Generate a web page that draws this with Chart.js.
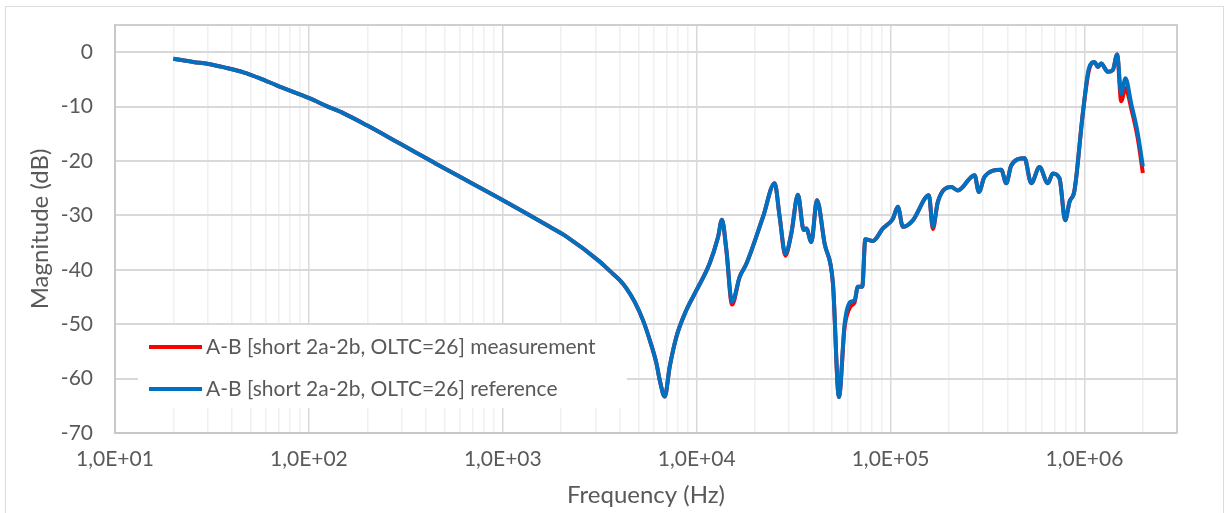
<!DOCTYPE html>
<html>
<head>
<meta charset="utf-8">
<script src="https://cdn.jsdelivr.net/npm/chart.js@4.4.1/dist/chart.umd.min.js"></script>
<style>
  body { margin: 0; background: #fff; }
  #wrap { position: relative; width: 1232px; height: 513px; }
  #frame { position: absolute; left: 5px; top: 6px; width: 1219px; height: 520px; border: 1.5px solid #dcdcdc; box-sizing: border-box; }
  canvas { position: absolute; left: 0; top: 0; }
</style>
</head>
<body>
<div id="wrap">
  <div id="frame"></div>
  <canvas id="bodeChart" width="1232" height="513"></canvas>
</div>
<script>
// frequency points (Hz)
const freqHz = [20, 25.3, 30.9, 37.6, 45.9, 55.9, 68.2, 83, 101.2, 123.4, 150.3, 198, 294.5, 437, 533, 965,
  1747, 2130, 3162, 3560, 4010, 4342, 4790, 5288, 5725, 6200,
  6448, 6842, 7259, 7861, 8850, 9965, 11670, 12880, 13500, 14230,
  15210, 16660, 18040, 21970, 25240, 26790, 28660, 30770, 33280, 35610,
  36770, 39020, 41700, 45680, 50420, 54140, 57940, 62000, 65220, 67830,
  71460, 74050, 81040, 91270, 102800, 109000, 115700, 130300, 157600, 165200,
  175300, 205500, 222300, 271000, 285300, 305200, 372100, 394900, 419200, 490700,
  531300, 586100, 647000, 686500, 743300, 795400, 837100, 888100, 980000, 1053000,
  1126000, 1171000, 1220000, 1319000, 1399000, 1474000, 1546000, 1627000, 1741000, 1882000,
  2000000];

// magnitude in dB
const measurement = [-1.2, -1.8, -2.2, -2.9, -3.7, -4.8, -6.1, -7.3, -8.5, -9.9, -11.2, -13.4, -16.8, -20.2, -21.9, -26.9,
  -32.1, -33.9, -38.5, -40.2, -41.9, -43.4, -45.9, -49.3, -52.9, -57.2,
  -60.3, -63.3, -57.8, -52.3, -47.4, -43.8, -38.8, -34.0, -30.8, -36.4,
  -46.4, -41.3, -38.9, -30.3, -24.1, -30.3, -37.4, -33.3, -26.2, -32.7,
  -32.4, -34.9, -27.2, -35.2, -42.5, -63.4, -50.5, -46.8, -46.0, -43.1,
  -43.1, -34.4, -34.7, -32.4, -30.6, -28.4, -32.1, -30.9, -26.3, -32.5,
  -27.5, -24.8, -25.4, -22.6, -25.7, -22.9, -21.6, -24.1, -20.8, -19.5,
  -24.1, -21.1, -24.1, -22.3, -23.2, -30.9, -27.5, -25.4, -11.3, -3.4,
  -1.8, -2.7, -2.1, -3.6, -3.3, -0.4, -9.0, -6.6, -10.3, -15.8,
  -22.2];

const reference = [-1.2, -1.8, -2.2, -2.9, -3.7, -4.8, -6.1, -7.3, -8.5, -9.9, -11.2, -13.4, -16.8, -20.2, -21.9, -26.9,
  -32.1, -33.9, -38.5, -40.2, -41.9, -43.4, -45.9, -49.3, -52.9, -57.2,
  -60.3, -63.3, -57.8, -52.3, -47.4, -43.8, -38.8, -34.0, -30.8, -36.4,
  -45.9, -41.3, -38.9, -30.3, -24.1, -30.3, -37.0, -33.3, -26.2, -32.7,
  -32.4, -34.9, -27.2, -35.2, -42.5, -63.4, -49.9, -45.9, -45.6, -43.1,
  -43.1, -34.4, -34.7, -32.4, -30.6, -28.4, -32.1, -30.9, -26.3, -32.1,
  -27.5, -24.8, -25.4, -22.6, -25.7, -22.9, -21.6, -24.1, -20.8, -19.5,
  -24.1, -21.1, -24.1, -22.3, -23.2, -30.9, -27.5, -25.4, -11.3, -3.0,
  -1.8, -2.7, -2.1, -3.6, -3.3, -0.4, -7.6, -4.8, -9.4, -14.9,
  -21.0];

const seriesLabels = ['A-B [short 2a-2b, OLTC=26] measurement', 'A-B [short 2a-2b, OLTC=26] reference'];

// axis ticks
const xMajorTicks = [10, 100, 1000, 10000, 100000, 1000000];
const xTickLabels = ['1,0E+01', '1,0E+02', '1,0E+03', '1,0E+04', '1,0E+05', '1,0E+06'];
const yTicks = [-70, -60, -50, -40, -30, -20, -10, 0];

const textColor = '#595959';
Chart.defaults.font.family = 'Lato';
Chart.defaults.color = textColor;

// minor log grid 2..9 per decade, up to the axis max
const xMax = 3e6;
const xGrid = [];
xMajorTicks.forEach(d => {
  for (let m = 1; m <= 9; m++) {
    if (d * m <= xMax) xGrid.push(d * m);
  }
});

// top/right border of the plot area
const plotFrame = {
  id: 'plotFrame',
  beforeDatasetsDraw(chart) {
    const { ctx, chartArea: a } = chart;
    ctx.save();
    ctx.strokeStyle = '#cfcfcf';
    ctx.lineWidth = 2;
    ctx.beginPath();
    ctx.moveTo(a.left, a.top);
    ctx.lineTo(a.right, a.top);
    ctx.lineTo(a.right, a.bottom);
    ctx.stroke();
    ctx.restore();
  }
};

// legend box inside the plot, like the original
const insideLegend = {
  id: 'insideLegend',
  afterDatasetsDraw(chart, args, opts) {
    const { ctx, chartArea: a } = chart;
    const x0 = a.left + opts.x, y0 = a.top + opts.y;
    ctx.save();
    ctx.fillStyle = '#ffffff';
    ctx.fillRect(x0, y0, opts.w, opts.h);
    ctx.font = '21px Lato';
    ctx.textBaseline = 'middle';
    chart.data.datasets.forEach((ds, i) => {
      const cy = y0 + opts.firstRow + i * opts.rowGap;
      ctx.strokeStyle = ds.borderColor;
      ctx.lineWidth = 4;
      ctx.beginPath();
      ctx.moveTo(x0 + 11, cy);
      ctx.lineTo(x0 + 64, cy);
      ctx.stroke();
      ctx.fillStyle = textColor;
      ctx.fillText(ds.label, x0 + 68, cy);
    });
    ctx.restore();
  }
};

const ctx = document.getElementById('bodeChart').getContext('2d');
const bodeChart = new Chart(ctx, {
  type: 'line',
  data: {
    datasets: [{
      label: seriesLabels[0],
      data: freqHz.map((f, i) => ({ x: f, y: measurement[i] })),
      borderColor: '#ff0000',
      borderWidth: 4,
      pointRadius: 0,
      cubicInterpolationMode: 'monotone',
      order: 2
    }, {
      label: seriesLabels[1],
      data: freqHz.map((f, i) => ({ x: f, y: reference[i] })),
      borderColor: '#0070c0',
      borderWidth: 4,
      pointRadius: 0,
      cubicInterpolationMode: 'monotone',
      order: 1
    }]
  },
  options: {
    responsive: false,
    animation: false,
    layout: { padding: { top: 25, right: 55, left: 0, bottom: 0 } },
    plugins: {
      legend: { display: false },
      tooltip: { enabled: false },
      insideLegend: { x: 23, y: 300, w: 489, h: 83, firstRow: 22, rowGap: 42 }
    },
    scales: {
      x: {
        type: 'logarithmic',
        min: 10,
        max: xMax,
        afterBuildTicks: s => { s.ticks = xGrid.map(v => ({ value: v })); },
        afterFit: s => { s.height = 80; },
        ticks: {
          autoSkip: false,
          maxRotation: 0,
          padding: 14,
          font: { size: 21 },
          callback: v => {
            const i = xMajorTicks.indexOf(v);
            return i >= 0 ? xTickLabels[i] : '';
          }
        },
        grid: {
          drawTicks: false,
          lineWidth: 1.5,
          color: c => (xMajorTicks.includes(c.tick && c.tick.value) ? '#d9d9d9' : '#f0f0f0')
        },
        border: { color: '#c8c8c8', width: 2 },
        title: {
          display: true,
          text: 'Frequency (Hz)',
          font: { size: 24 },
          padding: { top: 0, bottom: 3 }
        }
      },
      y: {
        min: -70,
        max: 5,
        afterBuildTicks: s => { s.ticks = yTicks.map(v => ({ value: v })); },
        afterFit: s => { s.width = 115; s.paddingTop = 0; s.paddingBottom = 0; },
        ticks: { padding: 22, font: { size: 21 } },
        grid: { drawTicks: false, color: '#d9d9d9', lineWidth: 2 },
        border: { color: '#c8c8c8', width: 2 },
        title: {
          display: true,
          text: 'Magnitude (dB)',
          font: { size: 24 },
          padding: { top: 26, bottom: 0 }
        }
      }
    }
  },
  plugins: [plotFrame, insideLegend]
});
</script>
</body>
</html>
